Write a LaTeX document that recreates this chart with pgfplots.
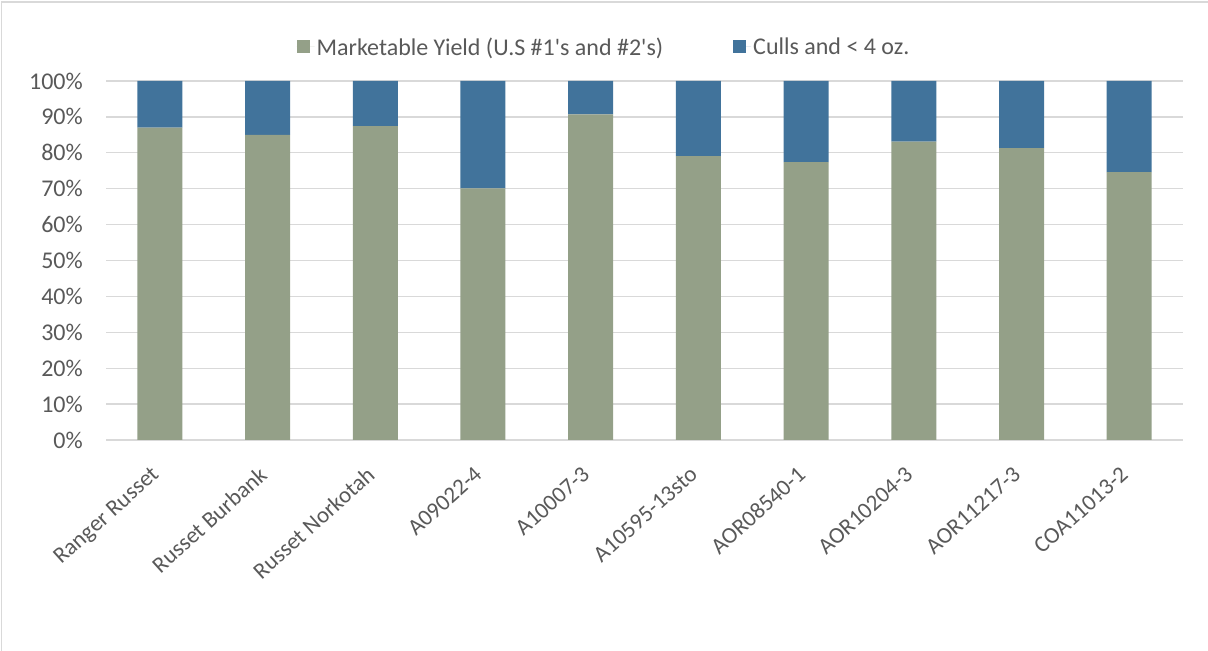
\documentclass[border=0pt]{standalone}
\usepackage{fontspec}
\setmainfont{Carlito}[Ligatures=TeXOff]
\usepackage{pgfplots}
\pgfplotsset{compat=1.18}
\definecolor{grn}{RGB}{148,160,136}
\definecolor{blu}{RGB}{65,115,155}
\definecolor{gridc}{RGB}{217,217,217}
\definecolor{txt}{RGB}{89,89,89}
\begin{document}
\begin{tikzpicture}[x=1bp,y=1bp]
\useasboundingbox (0,0) rectangle (1208,651);
\draw[gridc, line width=1.5bp] (1.5,0) -- (1.5,649) -- (1208,649);
\begin{axis}[
  at={(106bp,211bp)}, anchor=south west,
  width=1077bp, height=359bp, scale only axis,
  ybar stacked, bar width=45bp,
  xmin=-0.5, xmax=9.5, ymin=0, ymax=100,
  xtick={0,...,9},
  xticklabels={Ranger Russet,Russet Burbank,Russet Norkotah,A09022-4,A10007-3,A10595-13sto,AOR08540-1,AOR10204-3,AOR11217-3,COA11013-2},
  ytick={0,10,...,100},
  yticklabels={0\%,10\%,20\%,30\%,40\%,50\%,60\%,70\%,80\%,90\%,100\%},
  ymajorgrids, grid style={gridc, line width=1.3bp},
  axis lines*=left,
  x axis line style={gridc, line width=1.8bp, -},
  y axis line style={draw=none},
  tick style={draw=none},
  yticklabel style={font=\fontsize{24bp}{28bp}\selectfont, text=txt, anchor=east, inner sep=0pt, xshift=-23bp},
  xticklabel style={font=\fontsize{23bp}{27bp}\selectfont, text=txt, rotate=42, anchor=north east, inner sep=0pt, xshift=-24bp, yshift=-12bp},
  legend style={at={(0.4624,1.0947)}, anchor=center, draw=none, fill=none, legend columns=2,
    font=\fontsize{24bp}{28bp}\selectfont, text=txt,
    /tikz/every even column/.append style={column sep=68bp}},
  legend image code/.code={\fill[#1,draw=none] (0bp,-6.5bp) rectangle (13bp,6.5bp); \path (0bp,0bp) -- (18bp,0bp);},
  clip=false,
]
\addplot[fill=grn, draw=none] coordinates {(0,87.0) (1,85.0) (2,87.4) (3,70.1) (4,90.7) (5,79.1) (6,77.4) (7,83.1) (8,81.3) (9,74.6)};
\addplot[fill=blu, draw=none] coordinates {(0,13.0) (1,15.0) (2,12.6) (3,29.9) (4,9.3) (5,20.9) (6,22.6) (7,16.9) (8,18.7) (9,25.4)};
\legend{Marketable Yield (U.S \#1's and \#2's), Culls and < 4 oz.}
\end{axis}
\end{tikzpicture}
\end{document}
